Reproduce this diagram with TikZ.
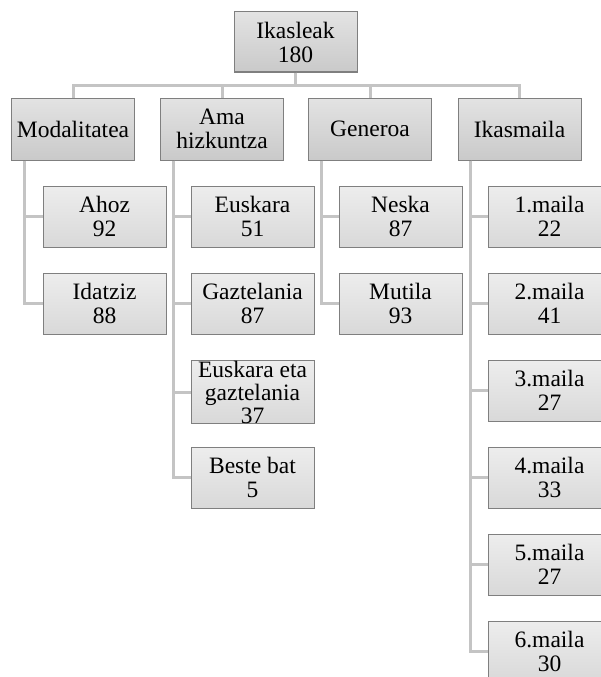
\documentclass[tikz,border=0pt]{standalone}
\usepackage{fontspec}
\setmainfont{Liberation Serif}
\definecolor{edgegray}{HTML}{7F7F7F}
\definecolor{linkgray}{HTML}{C4C4C4}
\tikzset{
  box/.style={draw=edgegray, line width=1pt, align=center, inner sep=0pt,
    minimum width=123pt, minimum height=61pt, font=\fontsize{23.5}{24}\selectfont},
  topbox/.style={box, top color=black!11, bottom color=black!21, minimum height=62pt},
  leafbox/.style={box, top color=black!7, bottom color=black!15},
  conn/.style={draw=linkgray, line width=3pt}
}
\begin{document}
\begin{tikzpicture}[x=1pt,y=-1pt]
\clip (0,0) rectangle (601,677);
% top
\node[topbox, minimum height=60pt] (root) at (295.5,42) {Ikasleak\\180};
\node[topbox] (modal) at (73,129) {Modalitatea};
\node[topbox] (ama) at (222,129) {Ama\\hizkuntza};
\node[topbox] (gen) at (370,129) {Generoa};
\node[topbox] (ikas) at (519.5,129) {Ikasmaila};
% modalitatea
\node[leafbox] (ahoz) at (104.5,216.5) {Ahoz\\92};
\node[leafbox] (idatziz) at (104.5,303.5) {Idatziz\\88};
% ama hizkuntza
\node[leafbox] (eusk) at (252.5,216.5) {Euskara\\51};
\node[leafbox] (gazt) at (252.5,303.5) {Gaztelania\\87};
\node[leafbox, font=\fontsize{23.5}{23}\selectfont] (biak) at (252.5,392) {Euskara eta\\gaztelania\\37};
\node[leafbox] (beste) at (252.5,477.5) {Beste bat\\5};
% generoa
\node[leafbox] (neska) at (400.5,216.5) {Neska\\87};
\node[leafbox] (mutila) at (400.5,303.5) {Mutila\\93};
% ikasmaila
\node[leafbox] (m1) at (549.5,216.5) {1.maila\\22};
\node[leafbox] (m2) at (549.5,303.5) {2.maila\\41};
\node[leafbox] (m3) at (549.5,390.5) {3.maila\\27};
\node[leafbox] (m4) at (549.5,477.5) {4.maila\\33};
\node[leafbox] (m5) at (549.5,564.5) {5.maila\\27};
\node[leafbox] (m6) at (549.5,651.5) {6.maila\\30};
% links
\foreach \c in {modal,ama,gen,ikas}
  \draw[conn] (root.south) -- ++(0,13) -| (\c.north);
\foreach \p/\c in {modal/ahoz,modal/idatziz,ama/eusk,ama/gazt,ama/biak,ama/beste,
    gen/neska,gen/mutila,ikas/m1,ikas/m2,ikas/m3,ikas/m4,ikas/m5,ikas/m6}
  \draw[conn] ([xshift=13pt]\p.south west) |- (\c.west);
\end{tikzpicture}
\end{document}
